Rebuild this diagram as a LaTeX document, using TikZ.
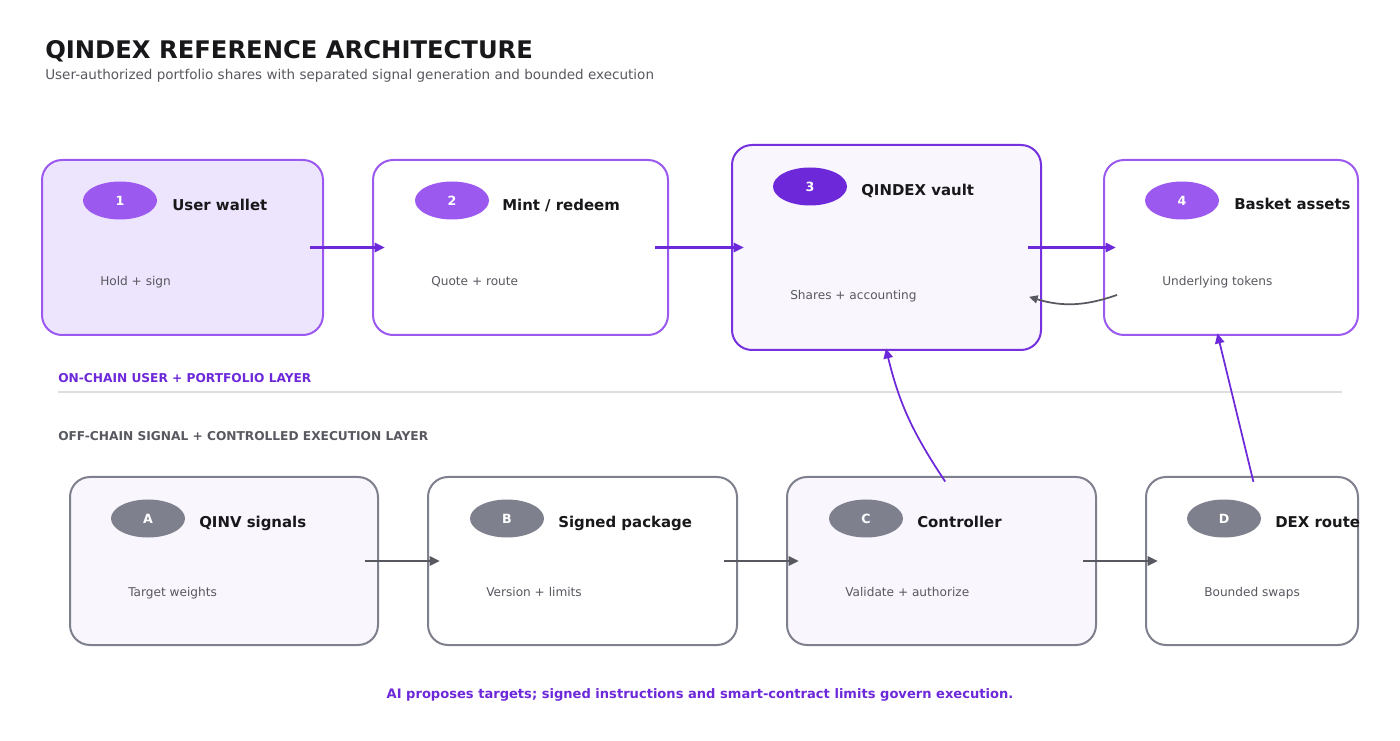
\documentclass[tikz,border=0pt]{standalone}
\usepackage{fontspec}
\setmainfont{DejaVu Sans}
\usepackage{xcolor}
\usepackage{tikz}
\usetikzlibrary{shapes.geometric, arrows.meta, positioning, calc}
\definecolor{deep}{RGB}{109, 40, 217}
\definecolor{lilac}{RGB}{155, 89, 240}
\definecolor{lilacfill}{RGB}{237, 229, 253}
\definecolor{mist}{RGB}{249, 246, 253}
\definecolor{slate}{RGB}{126, 128, 141}
\definecolor{ink}{RGB}{24, 24, 27}
\definecolor{muted}{RGB}{88, 88, 96}
\definecolor{rule}{RGB}{222, 222, 226}
\tikzstyle{chainbox} = [rectangle, rounded corners=15pt, draw=lilac, line width=1.5pt, fill=white, minimum height=131.25pt]
\tikzstyle{offbox} = [rectangle, rounded corners=15pt, draw=slate, line width=1.5pt, fill=white, minimum height=126pt]
\tikzstyle{badge} = [ellipse, minimum width=55.5pt, minimum height=28.5pt, inner sep=0pt, text=white, font=\bfseries\fontsize{9.5}{11}\selectfont]
\tikzstyle{boxtitle} = [anchor=base west, inner sep=0pt, text=ink, font=\bfseries\fontsize{11.2}{13}\selectfont]
\tikzstyle{boxnote} = [anchor=base west, inner sep=0pt, text=muted, font=\fontsize{9.1}{11}\selectfont]
\tikzstyle{layer} = [anchor=base west, inner sep=0pt, font=\bfseries\fontsize{9.15}{11}\selectfont]
\tikzstyle{flow} = [line width=1.6pt, -{Triangle[length=7.5pt, width=7pt]}, shorten <=-10.5pt, shorten >=-9.5pt]

\begin{document}
\begin{tikzpicture}[x=0.75pt, y=-0.75pt]
    \useasboundingbox (0,0) rectangle (1400,741);

    % Heading
    \node[anchor=base west, inner sep=0pt, text=ink, font=\bfseries\fontsize{18.2}{22}\selectfont] (title) at (45, 59) {QINDEX REFERENCE ARCHITECTURE};
    \node[anchor=base west, inner sep=0pt, text=muted, font=\fontsize{10.15}{12}\selectfont] (subtitle) at (45, 79.5) {User-authorized portfolio shares with separated signal generation and bounded execution};

    % On-chain row
    \node[chainbox, minimum width=210.75pt, fill=lilacfill] (wallet) at (182.5, 247.5) {};
    \node[chainbox, minimum width=221.25pt] (mint) at (520.5, 247.5) {};
    \node[chainbox, minimum width=231.75pt, minimum height=153.75pt, draw=deep!80!lilac, fill=mist] (vault) at (886.5, 247.5) {};
    \node[chainbox, minimum width=190.5pt] (basket) at (1231, 247.5) {};

    \node[badge, fill=lilac] (n1) at (120, 200.5) {1};
    \node[boxtitle] (t1) at (172, 210.5) {User wallet};
    \node[boxnote] (s1) at (100, 286) {Hold + sign};

    \node[badge, fill=lilac] (n2) at (452, 200.5) {2};
    \node[boxtitle] (t2) at (502, 210.5) {Mint / redeem};
    \node[boxnote] (s2) at (431, 286) {Quote + route};

    \node[badge, fill=deep] (n3) at (810, 186.5) {3};
    \node[boxtitle] (t3) at (861, 195.5) {QINDEX vault};
    \node[boxnote] (s3) at (790, 300) {Shares + accounting};

    \node[badge, fill=lilac] (n4) at (1182, 200.5) {4};
    \node[boxtitle] (t4) at (1234, 209.5) {Basket assets};
    \node[boxnote] (s4) at (1162, 286) {Underlying tokens};

    % Layer labels
    \node[layer, text=deep] (onchain) at (58, 382.5) {ON-CHAIN USER + PORTFOLIO LAYER};
    \draw[rule, line width=0.8pt] (58, 392) -- (1342, 392);
    \node[layer, text=muted] (offchain) at (58, 440.5) {OFF-CHAIN SIGNAL + CONTROLLED EXECUTION LAYER};

    % Off-chain row
    \node[offbox, minimum width=231pt, fill=mist] (signals) at (224, 561) {};
    \node[offbox, minimum width=231.75pt] (package) at (582.5, 561) {};
    \node[offbox, minimum width=231.75pt, fill=mist] (control) at (941.5, 561) {};
    \node[offbox, minimum width=159pt] (dex) at (1252, 561) {};

    \node[badge, fill=slate] (na) at (148, 518.5) {A};
    \node[boxtitle] (ta) at (199, 527.5) {QINV signals};
    \node[boxnote] (sa) at (128, 596) {Target weights};

    \node[badge, fill=slate] (nb) at (507, 518.5) {B};
    \node[boxtitle] (tb) at (558, 527.5) {Signed package};
    \node[boxnote] (sb) at (486, 596) {Version + limits};

    \node[badge, fill=slate] (nc) at (866, 518.5) {C};
    \node[boxtitle] (tc) at (917, 527.5) {Controller};
    \node[boxnote] (sc) at (845, 596) {Validate + authorize};

    \node[badge, fill=slate] (nd) at (1224, 518.5) {D};
    \node[boxtitle] (td) at (1275, 527.5) {DEX route};
    \node[boxnote] (sd) at (1204, 596) {Bounded swaps};

    % Arrows
    \draw[flow, deep] (wallet) -- (mint);
    \draw[flow, deep] (mint) -- (vault);
    \draw[flow, deep] (vault) -- (basket);
    \draw[line width=1.3pt, muted, -{Triangle[length=6.5pt, width=6pt]}] ([xshift=10.5pt, yshift=-35.6pt]basket.west) to[bend left=18] ([xshift=-9.75pt, yshift=-37pt]vault.east);

    \draw[flow, muted] (signals) -- (package);
    \draw[flow, muted] (package) -- (control);
    \draw[flow, muted] (control) -- (dex);

    \draw[flow, deep, line width=1.3pt, shorten <=-5pt, shorten >=-2pt] (control.north) to[bend left=10] (vault.south);
    \draw[flow, deep, line width=1.3pt, shorten <=-4.5pt, shorten >=-2pt] (dex.north) -- ([xshift=-9.75pt]basket.south);

    % Footer
    \node[inner sep=0pt, anchor=base, text=deep, font=\bfseries\fontsize{9.8}{12}\selectfont] (footer) at (700, 698) {AI proposes targets; signed instructions and smart-contract limits govern execution.};
\end{tikzpicture}
\end{document}
